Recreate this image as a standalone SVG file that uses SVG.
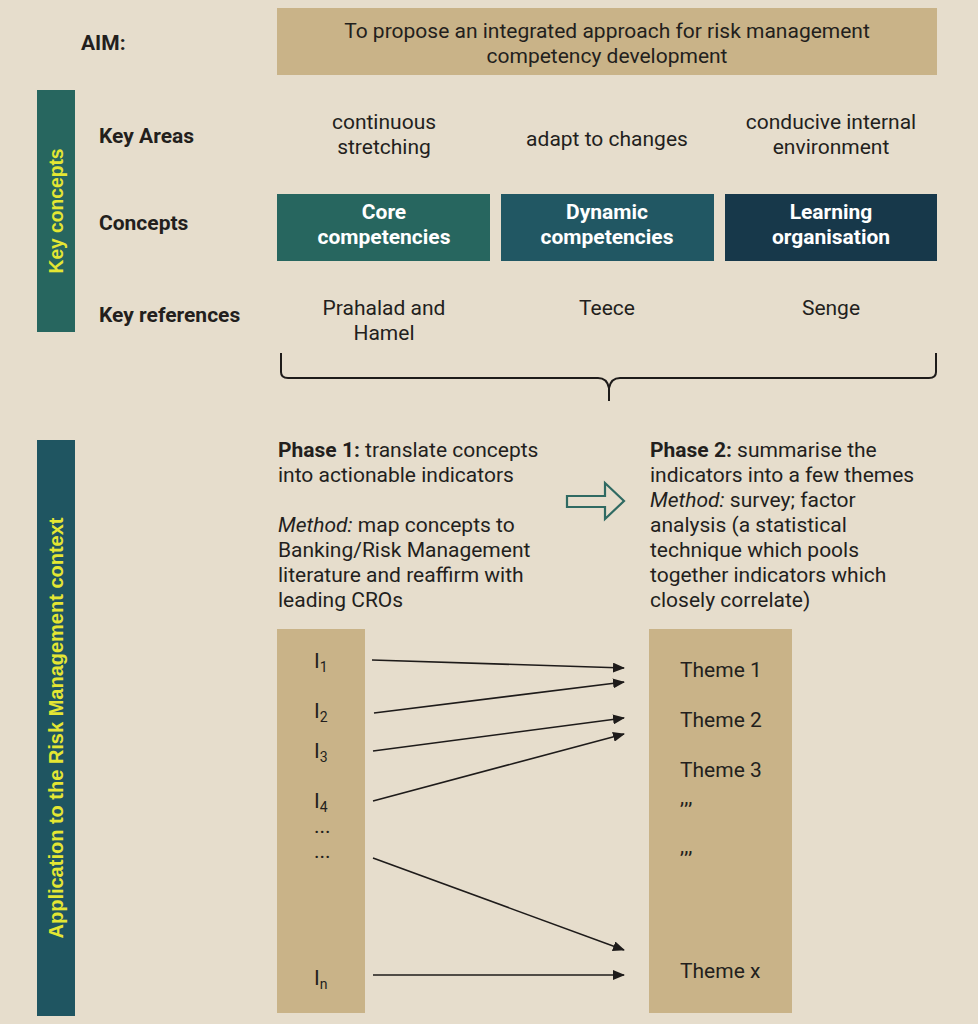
<svg xmlns="http://www.w3.org/2000/svg" width="978" height="1024" viewBox="0 0 978 1024">
<defs>
<style>
.t{font-family:Roboto,"Liberation Sans",sans-serif;font-size:21px;fill:#231f1d}
.b{font-weight:bold}
.c{text-anchor:middle}
.w{fill:#ffffff;font-weight:bold}
.side{font-family:"Liberation Sans",Arial,sans-serif;font-size:19.5px;font-weight:bold;fill:#e4e633;text-anchor:middle}
.sub{font-size:14px}
.conn{stroke:#1e1b1a;stroke-width:1.6;fill:none;marker-end:url(#ah)}
</style>
<marker id="ah" viewBox="0 0 12 10" refX="11" refY="5" markerWidth="12" markerHeight="10" markerUnits="userSpaceOnUse" orient="auto">
<path d="M0,0 L12,5 L0,10 Z" fill="#1e1b1a"/>
</marker>
</defs>
<rect width="978" height="1024" fill="#e6ddcc"/>

<g id="aim">
<text class="t b" x="81" y="50">AIM:</text>
<rect x="277" y="8" width="660" height="67" fill="#c9b388"/>
<text class="t c" x="607" y="38">To propose an integrated approach for risk management</text>
<text class="t c" x="607" y="63">competency development</text>
</g>

<g id="key-concepts-bar">
<rect x="37" y="90" width="38" height="242" fill="#27665f"/>
<text class="side" transform="translate(63,211) rotate(-90)" textLength="125" lengthAdjust="spacingAndGlyphs">Key concepts</text>
</g>

<g id="row-labels">
<text class="t b" x="99" y="143">Key Areas</text>
<text class="t b" x="99" y="230">Concepts</text>
<text class="t b" x="99" y="322">Key references</text>
</g>

<g id="key-areas">
<text class="t c" x="384" y="129">continuous</text>
<text class="t c" x="384" y="154">stretching</text>
<text class="t c" x="607" y="146">adapt to changes</text>
<text class="t c" x="831" y="129">conducive internal</text>
<text class="t c" x="831" y="154">environment</text>
</g>

<g id="concept-core">
<rect x="277" y="194" width="213" height="67" fill="#27665f"/>
<text class="t c w" x="384" y="219">Core</text>
<text class="t c w" x="384" y="244">competencies</text>
</g>
<g id="concept-dynamic">
<rect x="501" y="194" width="213" height="67" fill="#215763"/>
<text class="t c w" x="607" y="219">Dynamic</text>
<text class="t c w" x="607" y="244">competencies</text>
</g>
<g id="concept-learning">
<rect x="725" y="194" width="212" height="67" fill="#17384a"/>
<text class="t c w" x="831" y="219">Learning</text>
<text class="t c w" x="831" y="244">organisation</text>
</g>

<g id="references">
<text class="t c" x="384" y="315">Prahalad and</text>
<text class="t c" x="384" y="340">Hamel</text>
<text class="t c" x="607" y="315">Teece</text>
<text class="t c" x="831" y="315">Senge</text>
</g>

<g id="brace">
<path d="M281,353 L281,372 Q281,378 288,378 L598,378 Q607,378 609,388 L609,401 M609,388 Q611,378 620,378 L929,378 Q936,378 936,372 L936,353" fill="none" stroke="#1e1b1a" stroke-width="2"/>
</g>

<g id="application-bar">
<rect x="37" y="440" width="38" height="576" fill="#1f5561"/>
<text class="side" transform="translate(63,728) rotate(-90)" textLength="421" lengthAdjust="spacingAndGlyphs">Application to the Risk Management context</text>
</g>

<g id="phase1">
<text class="t" x="278" y="457"><tspan class="b">Phase 1:</tspan> translate concepts</text>
<text class="t" x="278" y="482">into actionable indicators</text>
<text class="t" x="278" y="532"><tspan font-style="italic">Method:</tspan> map concepts to</text>
<text class="t" x="278" y="557">Banking/Risk Management</text>
<text class="t" x="278" y="582">literature and reaffirm with</text>
<text class="t" x="278" y="607">leading CROs</text>
</g>

<g id="phase-arrow">
<path d="M567,496 L605,496 L605,483 L624,501 L605,519 L605,507 L567,507 Z" fill="none" stroke="#2f6a62" stroke-width="2.2" stroke-linejoin="miter"/>
</g>

<g id="phase2">
<text class="t" x="650" y="457"><tspan class="b">Phase 2:</tspan> summarise the</text>
<text class="t" x="650" y="482">indicators into a few themes</text>
<text class="t" x="650" y="507"><tspan font-style="italic">Method:</tspan> survey; factor</text>
<text class="t" x="650" y="532">analysis (a statistical</text>
<text class="t" x="650" y="557">technique which pools</text>
<text class="t" x="650" y="582">together indicators which</text>
<text class="t" x="650" y="607">closely correlate)</text>
</g>

<g id="indicators">
<rect x="277" y="629" width="88" height="384" fill="#c9b388"/>
<text class="t" x="314" y="668">I<tspan class="sub" dy="4">1</tspan></text>
<text class="t" x="314" y="718">I<tspan class="sub" dy="4">2</tspan></text>
<text class="t" x="314" y="758">I<tspan class="sub" dy="4">3</tspan></text>
<text class="t" x="314" y="808">I<tspan class="sub" dy="4">4</tspan></text>
<text class="t" x="314" y="833" font-size="14">...</text>
<text class="t" x="314" y="858" font-size="14">...</text>
<text class="t" x="314" y="985">I<tspan class="sub" dy="4">n</tspan></text>
</g>

<g id="themes">
<rect x="649" y="629" width="143" height="384" fill="#c9b388"/>
<text class="t" x="680" y="677">Theme 1</text>
<text class="t" x="680" y="727">Theme 2</text>
<text class="t" x="680" y="777">Theme 3</text>
<text class="t" x="680" y="804" font-size="14">,,,</text>
<text class="t" x="680" y="853" font-size="14">,,,</text>
<text class="t" x="680" y="978">Theme x</text>
</g>

<g id="connectors">
<line class="conn" x1="372" y1="660" x2="624" y2="668"/>
<line class="conn" x1="374" y1="713" x2="624" y2="682"/>
<line class="conn" x1="373" y1="751" x2="624" y2="718"/>
<line class="conn" x1="373" y1="801" x2="624" y2="734"/>
<line class="conn" x1="373" y1="858" x2="624" y2="950"/>
<line class="conn" x1="373" y1="975" x2="624" y2="975"/>
</g>
</svg>
